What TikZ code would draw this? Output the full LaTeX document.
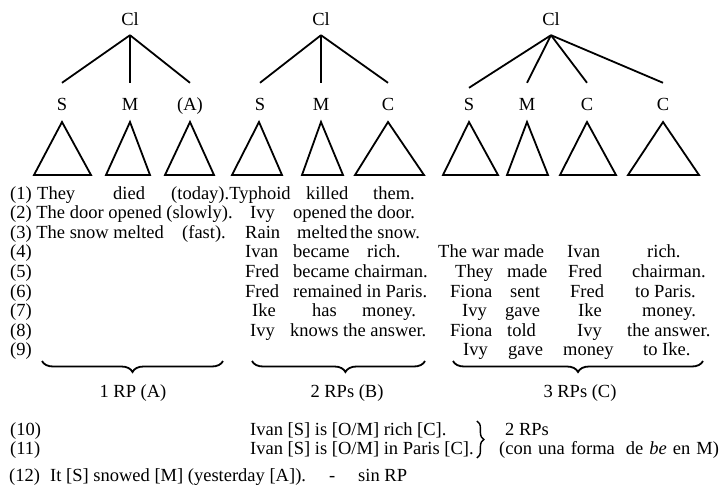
\documentclass[tikz,border=0pt]{standalone}
\usepackage{fontspec}
\setmainfont{Liberation Serif}
\usetikzlibrary{decorations.pathreplacing}
\newcommand{\tf}{\fontsize{18.5}{22}\selectfont}
\begin{document}
\begin{tikzpicture}[x=1pt,y=-1pt,
  txt/.style={anchor=base west, inner sep=0pt, font=\tf},
  ctxt/.style={anchor=base, inner sep=0pt, font=\tf},
  clnode/.style={anchor=base, font=\tf, inner xsep=0pt, inner ysep=9pt, text depth=0pt},
  lab/.style={anchor=base, font=\tf, inner xsep=0pt, inner ysep=16pt, text height=12pt, text depth=0pt},
  edge/.style={line width=1.8pt},
  tri/.style={line width=1.8pt, line join=miter},
  brc/.style={line width=1.8pt, decorate, decoration={brace, mirror, amplitude=11pt}},
  sbrc/.style={line width=1.4pt, decorate, decoration={brace, amplitude=7pt}}
]
\useasboundingbox (0,0) rectangle (722,497);

% ---- tree 1
\node[clnode] (cl1) at (130,26) {Cl};
\node[lab] (s1) at (62,111) {S};
\node[lab] (m1) at (130,111) {M};
\node[lab] (a1) at (190,111) {(A)};
\draw[edge] (cl1.south) -- (s1.north);
\draw[edge] (cl1.south) -- (m1.north);
\draw[edge] (cl1.south) -- (a1.north);
% ---- tree 2
\node[clnode] (cl2) at (321,26) {Cl};
\node[lab] (s2) at (260,111) {S};
\node[lab] (m2) at (321,111) {M};
\node[lab] (c2) at (388,111) {C};
\draw[edge] (cl2.south) -- (s2.north);
\draw[edge] (cl2.south) -- (m2.north);
\draw[edge] (cl2.south) -- (c2.north);
% ---- tree 3
\node[clnode] (cl3) at (551,26) {Cl};
\node[lab] (s3) at (469,111) {S};
\node[lab] (m3) at (527,111) {M};
\node[lab] (c3) at (587,111) {C};
\node[lab] (c4) at (663,111) {C};
\draw[edge] (cl3.south) -- ([yshift=-5pt]s3.north);
\draw[edge] (cl3.south) -- (m3.north);
\draw[edge] (cl3.south) -- (c3.north);
\draw[edge] (cl3.south) -- (c4.north);

% ---- triangles
\foreach \ax/\l/\r in {62/34/91, 130/106/150, 190/165/214, 259/232/282, 321/302/343, 388/355/424,
                       469/443/498, 527/507/548, 587/560/616, 663/628/699}
  \draw[tri] (\ax,122) -- (\r,175) -- (\l,175) -- cycle;

% ---- rows 1-9
\node[txt] (n1) at (10,199) {(1)};
\node[txt] (w1a) at (37,199) {They};
\node[txt] (w1b) at (113,199) {died};
\node[txt] (w1c) at (171,199) {(today).Typhoid};
\node[txt] (w1e) at (306,199) {killed};
\node[txt] (w1f) at (373,199) {them.};

\node[txt] (n2) at (10,218.6) {(2) The door opened (slowly).};
\node[txt] (w2a) at (250,218.6) {Ivy};
\node[txt] (w2b) at (293,218.6) {opened};
\node[txt] (w2c) at (350,218.6) {the door.};

\node[txt] (n3) at (10,238.2) {(3) The snow melted};
\node[txt] (w3x) at (182,238.2) {(fast).};
\node[txt] (w3a) at (245,238.2) {Rain};
\node[txt] (w3b) at (297,238.2) {melted};
\node[txt] (w3c) at (350,238.2) {the snow.};

\node[txt] (n4) at (10,257.8) {(4)};
\node[txt] (w4a) at (245,257.8) {Ivan};
\node[txt] (w4b) at (293,257.8) {became};
\node[txt] (w4c) at (367,257.8) {rich.};
\node[txt] (v4a) at (438,257.8) {The war made};
\node[txt] (v4b) at (567,257.8) {Ivan};
\node[txt] (v4c) at (647,257.8) {rich.};

\node[txt] (n5) at (10,277.4) {(5)};
\node[txt] (w5a) at (245,277.4) {Fred};
\node[txt] (w5b) at (293,277.4) {became chairman.};
\node[txt] (v5a) at (455,277.4) {They};
\node[txt] (v5b) at (507,277.4) {made};
\node[txt] (v5c) at (568,277.4) {Fred};
\node[txt] (v5d) at (632,277.4) {chairman.};

\node[txt] (n6) at (10,297) {(6)};
\node[txt] (w6a) at (245,297) {Fred};
\node[txt] (w6b) at (293,297) {remained in Paris.};
\node[txt] (v6a) at (450,297) {Fiona};
\node[txt] (v6b) at (510,297) {sent};
\node[txt] (v6c) at (570,297) {Fred};
\node[txt] (v6d) at (635,297) {to Paris.};

\node[txt] (n7) at (10,316.6) {(7)};
\node[txt] (w7a) at (252,316.6) {Ike};
\node[txt] (w7b) at (312,316.6) {has};
\node[txt] (w7c) at (362,316.6) {money.};
\node[txt] (v7a) at (462,316.6) {Ivy};
\node[txt] (v7b) at (505,316.6) {gave};
\node[txt] (v7c) at (578,316.6) {Ike};
\node[txt] (v7d) at (642,316.6) {money.};

\node[txt] (n8) at (10,336.2) {(8)};
\node[txt] (w8a) at (250,336.2) {Ivy};
\node[txt] (w8b) at (290,336.2) {knows the answer.};
\node[txt] (v8a) at (450,336.2) {Fiona};
\node[txt] (v8b) at (507,336.2) {told};
\node[txt] (v8c) at (577,336.2) {Ivy};
\node[txt] (v8d) at (627,336.2) {the answer.};

\node[txt] (n9) at (10,355.8) {(9)};
\node[txt] (v9a) at (463,355.8) {Ivy};
\node[txt] (v9b) at (508,355.8) {gave};
\node[txt] (v9c) at (563,355.8) {money};
\node[txt] (v9d) at (643,355.8) {to Ike.};

% ---- braces and labels
\coordinate (b1l) at (42,361);  \coordinate (b1r) at (223,361);
\coordinate (b2l) at (252,361); \coordinate (b2r) at (425,361);
\coordinate (b3l) at (453,361); \coordinate (b3r) at (703,361);
\draw[brc] (b1l) -- (b1r);
\draw[brc, decoration={aspect=0.54}] (b2l) -- (b2r);
\draw[brc] (b3l) -- (b3r);
\node[ctxt] (g1) at (133,397) {1 RP (A)};
\node[ctxt] (g2) at (347,397) {2 RPs (B)};
\node[ctxt] (g3) at (580,397) {3 RPs (C)};

% ---- (10), (11)
\node[txt] (n10) at (10,435) {(10)};
\node[txt] (n11) at (10,454) {(11)};
\node[txt] (e10) at (250,435) {Ivan [S] is [O/M] rich [C].};
\node[txt] (e11) at (250,454) {Ivan [S] is [O/M] in Paris [C].};
\coordinate (sbt) at ([xshift=3pt]e11.east |- 0,421);
\coordinate (sbb) at ([xshift=3pt]e11.east |- 0,458);
\draw[sbrc] (sbt) -- (sbb);
\node[txt] (rp2) at (505,435) {2 RPs};
\node[txt] (con) at (499,454) {(con\hspace{6pt}una\hspace{6pt}forma\hspace{11pt}de\hspace{6pt}\textit{be}\hspace{6pt}en\hspace{6pt}M)};

% ---- (12)
\node[txt] (n12) at (9,481) {(12)};
\node[txt] (e12) at (50,481) {It [S] snowed [M] (yesterday [A]).};
\node[txt] (dash) at (329,481) {-};
\node[txt] (sin) at (358,481) {sin RP};
\end{tikzpicture}
\end{document}
